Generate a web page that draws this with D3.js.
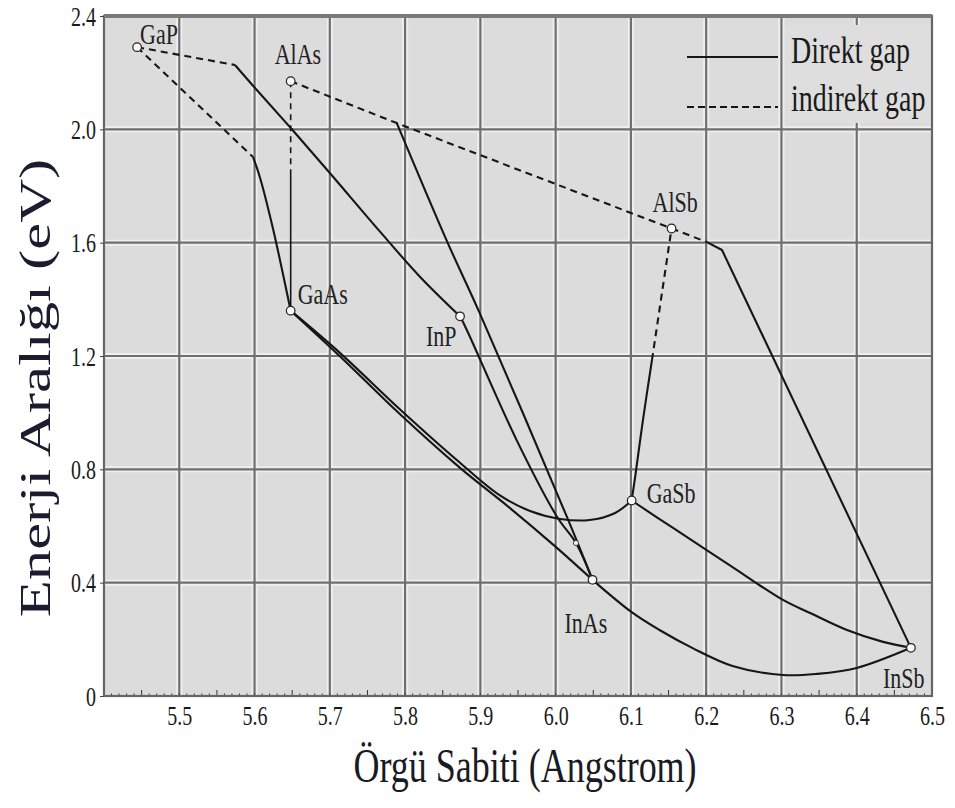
<!DOCTYPE html>
<html>
<head>
<meta charset="utf-8">
<script src="https://cdn.jsdelivr.net/npm/d3@7"></script>
<style>
  html, body { margin: 0; padding: 0; background: #ffffff; }
  svg { display: block; }
</style>
</head>
<body>
<script>
// ---- Data: binary compounds (lattice constant in Å, band gap in eV) ----
const compounds = ["GaP", "AlAs", "GaAs", "InP", "AlSb", "GaSb", "InAs", "InSb"];
const latticeA  = [5.444, 5.648, 5.648, 5.873, 6.154, 6.101, 6.049, 6.472];
const gapEV     = [2.29, 2.17, 1.36, 1.34, 1.65, 0.69, 0.41, 0.17];

// ---- Ternary alloy curves: [lattice constant, gap] ----
// GaInP
const gaInPInd = [[5.444, 2.29], [5.574, 2.227]];
const gaInPDir = [[5.574, 2.227], [5.603, 2.139], [5.647, 2.008], [5.700, 1.846], [5.767, 1.638], [5.820, 1.479], [5.873, 1.34]];
// GaAsP
const gaAsPInd = [[5.444, 2.29], [5.598, 1.902]];
const gaAsPDir = [[5.598, 1.902], [5.607, 1.832], [5.624, 1.655], [5.648, 1.36]];
// AlGaAs
const alGaAsInd = [[5.648, 2.17], [5.648, 1.846]];
const alGaAsDir = [[5.648, 1.846], [5.648, 1.36]];
// AlAsSb and AlInSb
const alAsSbInd = [[5.648, 2.17], [5.789, 2.022], [6.154, 1.65]];
const alInSbInd = [[6.154, 1.65], [6.201, 1.602]];
const alInSbDir = [[6.201, 1.602], [6.221, 1.574], [6.472, 0.17]];
// AlInAs (direct branch)
const alInAsDir = [[5.789, 2.022], [5.855, 1.609], [5.899, 1.352], [6.015, 0.632], [6.049, 0.41]];
// InAsP
const inAsPDir = [[5.873, 1.34], [5.882, 1.292], [5.948, 0.904], [6.002, 0.632], [6.027, 0.540], [6.049, 0.41]];
// InGaAs
const inGaAsDir = [[5.648, 1.36], [5.713, 1.200], [5.793, 0.995], [5.873, 0.805], [5.939, 0.664], [5.999, 0.529], [6.049, 0.41]];
// GaAsSb
const gaAsSbDir = [[5.648, 1.36], [5.713, 1.212], [5.793, 1.012], [5.873, 0.823], [5.926, 0.708], [5.966, 0.653], [6.006, 0.625], [6.045, 0.621], [6.079, 0.646], [6.101, 0.69]];
// InAsSb
const inAsSbDir = [[6.049, 0.41], [6.101, 0.296], [6.138, 0.233], [6.182, 0.169], [6.235, 0.106], [6.302, 0.074], [6.347, 0.078], [6.400, 0.099], [6.472, 0.17]];
// InGaSb
const inGaSbDir = [[6.101, 0.69], [6.156, 0.593], [6.231, 0.462], [6.302, 0.339], [6.338, 0.293], [6.387, 0.233], [6.435, 0.191], [6.472, 0.17]];
// AlGaSb
const alGaSbDir = [[6.101, 0.69], [6.106, 0.780], [6.116, 0.974], [6.128, 1.186]];
const alGaSbInd = [[6.128, 1.186], [6.154, 1.65]];
// Meeting point of InAsP and AlInAs
const junction = [[6.027, 0.540]];

// ---- Axes ----
const xTicks = [5.5, 5.6, 5.7, 5.8, 5.9, 6.0, 6.1, 6.2, 6.3, 6.4, 6.5];
const yTicks = [0, 0.4, 0.8, 1.2, 1.6, 2.0, 2.4];
const xTitle = "Örgü Sabiti (Angstrom)";
const yTitle = "Enerji Aralığı (eV)";
const legendLabels = ["Direkt gap", "indirekt gap"];

const W = 955, H = 808;
const SERIF = "'Liberation Serif', 'Times New Roman', serif";
const STRETCH = 1.35; // tall, narrow lettering

const svg = d3.select("body").append("svg").attr("width", W).attr("height", H);

const x = d3.scaleLinear().domain([5.4, 6.5]).range([104, 932]);
const y = d3.scaleLinear().domain([0, 2.4]).range([696, 16]);

const [x0, x1] = x.range();
const [y0, y1] = y.range(); // y0 bottom, y1 top

// plot background
svg.append("rect")
  .attr("x", x0).attr("y", y1).attr("width", x1 - x0).attr("height", y0 - y1)
  .attr("fill", "#dcdcdc");

// grid: light halo under each dark line
const grid = svg.append("g");
const vLines = xTicks.filter(d => d < 6.5);
const hLines = yTicks.filter(d => d > 0 && d < 2.4);
[["#efefef", 6], ["#6f6f6f", 2.2]].forEach(([c, w]) => {
  grid.selectAll(null).data(vLines).enter().append("line")
    .attr("x1", d => x(d)).attr("x2", d => x(d))
    .attr("y1", y1).attr("y2", y0)
    .attr("stroke", c).attr("stroke-width", w);
  grid.selectAll(null).data(hLines).enter().append("line")
    .attr("x1", x0).attr("x2", x1)
    .attr("y1", d => y(d)).attr("y2", d => y(d))
    .attr("stroke", c).attr("stroke-width", w);
});

// minor ticks along the bottom edge
const minor = d3.range(0, 111).map(i => 5.4 + i * 0.01);
svg.append("g").selectAll("line").data(minor).enter().append("line")
  .attr("x1", d => x(d)).attr("x2", d => x(d))
  .attr("y1", y0)
  .attr("y2", (d, i) => y0 - (i % 10 === 5 ? 6 : 2.5))
  .attr("stroke", "#333").attr("stroke-width", 1);

// legend backdrop
svg.append("rect")
  .attr("x", 786).attr("y", 25).attr("width", x1 - 786 - 1).attr("height", 98)
  .attr("fill", "#dedede");

// frame
svg.append("rect")
  .attr("x", x0).attr("y", y1).attr("width", x1 - x0).attr("height", y0 - y1)
  .attr("fill", "none").attr("stroke", "#666").attr("stroke-width", 2.2);
svg.append("line")
  .attr("x1", x0).attr("x2", x1).attr("y1", y1).attr("y2", y1)
  .attr("stroke", "#7a7a7a").attr("stroke-width", 4);

// ---- Alloy curves ----
const lineStraight = d3.line().x(d => x(d[0])).y(d => y(d[1]));
const lineSmooth = d3.line().x(d => x(d[0])).y(d => y(d[1])).curve(d3.curveCatmullRom.alpha(0.5));

const curves = [
  { pts: gaInPInd, dashed: true, smooth: false },
  { pts: gaInPDir, dashed: false, smooth: true },
  { pts: gaAsPInd, dashed: true, smooth: false },
  { pts: gaAsPDir, dashed: false, smooth: true },
  { pts: alGaAsInd, dashed: true, smooth: false, thin: true },
  { pts: alGaAsDir, dashed: false, smooth: false, thin: true },
  { pts: alAsSbInd, dashed: true, smooth: false },
  { pts: alInSbInd, dashed: true, smooth: false },
  { pts: alInSbDir, dashed: false, smooth: false },
  { pts: alInAsDir, dashed: false, smooth: true },
  { pts: inAsPDir, dashed: false, smooth: true },
  { pts: inGaAsDir, dashed: false, smooth: true },
  { pts: gaAsSbDir, dashed: false, smooth: true },
  { pts: inAsSbDir, dashed: false, smooth: true },
  { pts: inGaSbDir, dashed: false, smooth: true },
  { pts: alGaSbDir, dashed: false, smooth: true },
  { pts: alGaSbInd, dashed: true, smooth: false }
];

svg.append("g").selectAll("path").data(curves).enter().append("path")
  .attr("d", c => (c.smooth ? lineSmooth : lineStraight)(c.pts))
  .attr("fill", "none")
  .attr("stroke", "#161616")
  .attr("stroke-width", c => c.thin ? 1.6 : 2.1)
  .attr("stroke-dasharray", c => c.dashed ? (c.thin ? "6,5" : "7,5") : null)
  .attr("stroke-linejoin", "round");

// ---- Compound markers and labels ----
const pts = compounds.map((name, i) => ({ name, a: latticeA[i], e: gapEV[i] }));

svg.append("g").selectAll("circle").data(pts).enter().append("circle")
  .attr("cx", d => x(d.a)).attr("cy", d => y(d.e)).attr("r", 4.3)
  .attr("fill", "#fafafa").attr("stroke", "#222").attr("stroke-width", 1.2);

svg.append("g").selectAll("circle").data(junction).enter().append("circle")
  .attr("cx", d => x(d[0])).attr("cy", d => y(d[1])).attr("r", 2.6)
  .attr("fill", "#f4f4f4").attr("stroke", "#333").attr("stroke-width", 0.9);

const labelShift = {
  GaP: [3, -3], AlAs: [-16, -17], GaAs: [7, -7], InP: [-34, 30],
  AlSb: [-19, -17], GaSb: [15, 2], InAs: [-28, 53], InSb: [-28, 40]
};
svg.append("g").selectAll("text").data(pts).enter().append("text")
  .attr("transform", d => `translate(${x(d.a) + labelShift[d.name][0]},${y(d.e) + labelShift[d.name][1]}) scale(1,${STRETCH})`)
  .attr("font-family", SERIF)
  .attr("font-size", 22)
  .attr("fill", "#222")
  .text(d => d.name);

// ---- Axes ----
const xAxis = svg.append("g").attr("transform", `translate(0,${y0})`)
  .call(d3.axisBottom(x).tickValues(xTicks).tickFormat(d3.format(".1f")).tickSize(0));
xAxis.select(".domain").remove();
xAxis.selectAll("text")
  .attr("y", null).attr("dy", null)
  .attr("transform", `translate(0,29) scale(1,${STRETCH})`)
  .attr("font-size", 20).attr("font-family", SERIF).attr("fill", "#1a1a1a");

const yAxis = svg.append("g").attr("transform", `translate(${x0},0)`)
  .call(d3.axisLeft(y).tickValues(yTicks).tickFormat(d => d === 0 ? "0" : d3.format(".1f")(d)).tickSize(4));
yAxis.select(".domain").remove();
yAxis.selectAll("line").attr("stroke", "#444");
yAxis.selectAll("text")
  .attr("x", null).attr("dy", null)
  .attr("transform", `translate(-8,9) scale(1,${STRETCH})`)
  .attr("text-anchor", "end")
  .attr("font-size", 20).attr("font-family", SERIF).attr("fill", "#1a1a1a");

// axis titles
svg.append("text")
  .attr("transform", `translate(${(x0 + x1) / 2 + 7},782) scale(1,${STRETCH})`)
  .attr("text-anchor", "middle")
  .attr("font-family", SERIF)
  .attr("font-size", 36)
  .attr("fill", "#1a1a24")
  .text(xTitle);

svg.append("text")
  .attr("transform", `translate(50,388) rotate(-90) scale(${STRETCH},1)`)
  .attr("text-anchor", "middle")
  .attr("font-family", SERIF)
  .attr("font-size", 45)
  .attr("fill", "#1c1c30")
  .text(yTitle);

// ---- Legend ----
const legend = svg.append("g");
[57, 107].forEach((ly, i) => {
  legend.append("line")
    .attr("x1", 687).attr("x2", 778).attr("y1", ly).attr("y2", ly)
    .attr("stroke", "#161616").attr("stroke-width", 2.2)
    .attr("stroke-dasharray", i === 1 ? "7,4" : null);
  legend.append("text")
    .attr("transform", `translate(791,${i === 0 ? 63 : 111}) scale(1,${STRETCH})`)
    .attr("font-family", SERIF)
    .attr("font-size", 28)
    .attr("fill", "#1a1a1a")
    .text(legendLabels[i]);
});
</script>
</body>
</html>
